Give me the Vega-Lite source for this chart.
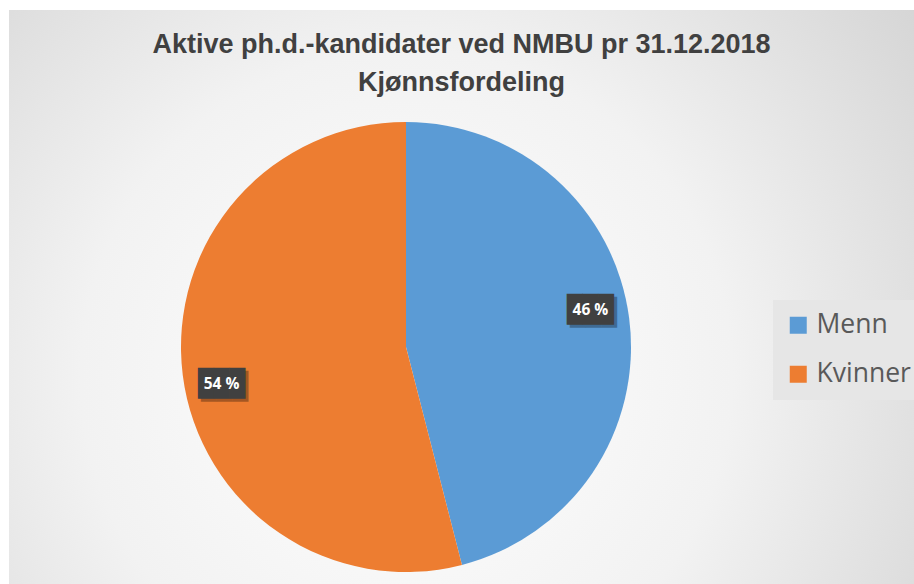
{
  "$schema": "https://vega.github.io/schema/vega-lite/v6.json",
  "width": 905,
  "height": 574,
  "autosize": {"type": "none"},
  "padding": {"left": 9, "top": 10, "right": 0, "bottom": 0},
  "background": "#ffffff",
  "title": {
    "text": ["Aktive ph.d.-kandidater ved NMBU pr 31.12.2018", "Kjønnsfordeling"],
    "font": "Liberation Sans",
    "fontSize": 27,
    "fontWeight": "bold",
    "color": "#404040",
    "lineHeight": 38,
    "anchor": "middle",
    "offset": -87
  },
  "data": {
    "values": [
      {"kjonn": "Menn", "andel": 46, "label": "46 %"},
      {"kjonn": "Kvinner", "andel": 54, "label": "54 %"}
    ]
  },
  "layer": [
    {
      "data": {"values": [{"bg": 1}]},
      "mark": {
        "type": "rect",
        "fill": {
          "gradient": "radial",
          "x1": 0.439, "y1": 0.587, "r1": 0,
          "x2": 0.439, "y2": 0.587, "r2": 0.8,
          "stops": [
            {"offset": 0, "color": "#ffffff"},
            {"offset": 0.45, "color": "#f2f2f2"},
            {"offset": 0.8, "color": "#dadada"},
            {"offset": 1, "color": "#cdcdcd"}
          ]
        }
      },
      "encoding": {}
    },
    {
      "mark": {"type": "arc", "radius": 225, "stroke": null, "xOffset": -55.5, "yOffset": 50},
      "encoding": {
        "theta": {"field": "andel", "type": "quantitative", "stack": true},
        "order": {"field": "andel", "type": "quantitative", "sort": "ascending"},
        "color": {
          "field": "kjonn",
          "type": "nominal",
          "sort": ["Menn", "Kvinner"],
          "scale": {"domain": ["Menn", "Kvinner"], "range": ["#5B9BD5", "#ED7D31"]},
          "legend": {
            "orient": "none",
            "legendX": 764,
            "legendY": 290,
            "title": null,
            "symbolType": "square",
            "symbolSize": 289,
            "symbolStrokeWidth": 0,
            "symbolOpacity": 1,
            "labelFont": "Open Sans",
            "labelFontSize": 26.5,
            "labelColor": "#595959",
            "labelOffset": 5,
            "labelLimit": 300,
            "rowPadding": 22,
            "padding": 12,
            "fillColor": "#e6e6e6"
          }
        }
      }
    },
    {
      "mark": {"type": "text", "radius": 188, "text": "███", "font": "DejaVu Sans Mono", "fontSize": 26, "color": "#000000", "opacity": 0.3, "xOffset": -52.5, "yOffset": 53, "align": "center", "baseline": "middle"},
      "encoding": {
        "theta": {"field": "andel", "type": "quantitative", "stack": true, "scale": {"range": [-0.0698, 6.2134]}},
        "order": {"field": "andel", "type": "quantitative", "sort": "ascending"}
      }
    },
    {
      "mark": {"type": "text", "radius": 188, "text": "███", "font": "DejaVu Sans Mono", "fontSize": 26, "color": "#404040", "xOffset": -55.5, "yOffset": 50, "align": "center", "baseline": "middle"},
      "encoding": {
        "theta": {"field": "andel", "type": "quantitative", "stack": true, "scale": {"range": [-0.0698, 6.2134]}},
        "order": {"field": "andel", "type": "quantitative", "sort": "ascending"}
      }
    },
    {
      "mark": {"type": "text", "radius": 188, "font": "Open Sans", "fontSize": 15.5, "fontWeight": "bold", "color": "#ffffff", "xOffset": -55.5, "yOffset": 50, "align": "center", "baseline": "middle"},
      "encoding": {
        "theta": {"field": "andel", "type": "quantitative", "stack": true, "scale": {"range": [-0.0698, 6.2134]}},
        "order": {"field": "andel", "type": "quantitative", "sort": "ascending"},
        "text": {"field": "label", "type": "nominal"}
      }
    }
  ],
  "resolve": {"scale": {"theta": "independent"}},
  "config": {
    "view": {"stroke": null}
  }
}
